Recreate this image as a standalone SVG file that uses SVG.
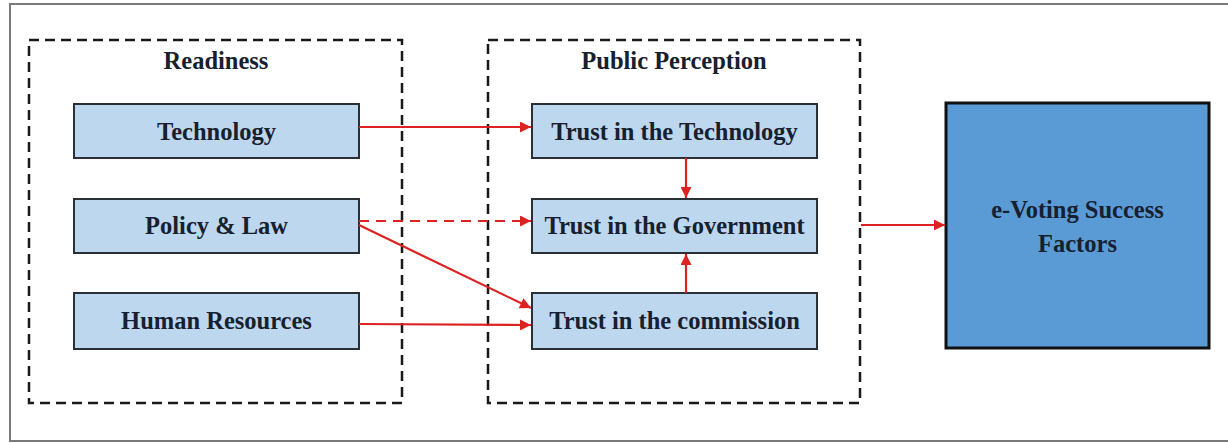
<svg xmlns="http://www.w3.org/2000/svg" width="1228" height="443" viewBox="0 0 1228 443">
<style>
.bg{fill:#ffffff}
.frame{fill:none;stroke:#7a7a7a;stroke-width:2}
.group{fill:none;stroke:#1a1a1a;stroke-width:2.5;stroke-dasharray:10 6}
.box{fill:#bdd7ee;stroke:#2b2f36;stroke-width:2}
.out{fill:#5b9bd5;stroke:#111111;stroke-width:3}
.t{font-family:"Liberation Serif","Times New Roman",serif;font-weight:bold;font-size:24.5px;fill:#17202e;text-anchor:middle}
.c{fill:none;stroke:#dd2222;stroke-width:2.2}
.d{stroke-dasharray:10 7}
</style>
<defs>
<marker id="ah" viewBox="0 0 10 10" refX="10" refY="5" markerWidth="5.5" markerHeight="5" orient="auto" markerUnits="strokeWidth">
<path d="M0,0 L10,5 L0,10 z" fill="#dd2222"/>
</marker>
</defs>
<rect class="bg" x="0" y="0" width="1228" height="443"/>
<path class="frame" d="M1230,4 L10,4 L10,441 L1230,441"/>

<g id="readiness">
<rect class="group" x="29" y="40" width="373" height="363"/>
<text class="t" x="216" y="69">Readiness</text>
</g>
<g id="public-perception">
<rect class="group" x="488" y="40" width="372" height="363"/>
<text class="t" x="674" y="69">Public Perception</text>
</g>

<g id="technology">
<rect class="box" x="74" y="104" width="285" height="54"/>
<text class="t" x="216.5" y="140">Technology</text>
</g>
<g id="policy-law">
<rect class="box" x="74" y="199" width="285" height="54"/>
<text class="t" x="216.5" y="234">Policy &amp; Law</text>
</g>
<g id="human-resources">
<rect class="box" x="74" y="293" width="285" height="56"/>
<text class="t" x="216.5" y="329">Human Resources</text>
</g>

<g id="trust-technology">
<rect class="box" x="532" y="104" width="285" height="54"/>
<text class="t" x="674.5" y="140">Trust in the Technology</text>
</g>
<g id="trust-government">
<rect class="box" x="532" y="199" width="285" height="54"/>
<text class="t" x="674.5" y="234">Trust in the Government</text>
</g>
<g id="trust-commission">
<rect class="box" x="532" y="293" width="285" height="56"/>
<text class="t" x="674.5" y="329">Trust in the commission</text>
</g>

<g id="evoting">
<rect class="out" x="946" y="103" width="263" height="245"/>
<text class="t" x="1077.5" y="218">e-Voting Success</text>
<text class="t" x="1077.5" y="252">Factors</text>
</g>

<g id="connectors">
<line class="c" x1="359" y1="127" x2="531" y2="127" marker-end="url(#ah)"/>
<line class="c d" x1="359" y1="221" x2="531" y2="221" marker-end="url(#ah)"/>
<line class="c" x1="359" y1="225" x2="531" y2="308" marker-end="url(#ah)"/>
<line class="c" x1="359" y1="324" x2="531" y2="325" marker-end="url(#ah)"/>
<line class="c" x1="686" y1="158" x2="686" y2="198" marker-end="url(#ah)"/>
<line class="c" x1="686" y1="293" x2="686" y2="254" marker-end="url(#ah)"/>
<line class="c" x1="861" y1="225" x2="945" y2="225" marker-end="url(#ah)"/>
</g>
</svg>
